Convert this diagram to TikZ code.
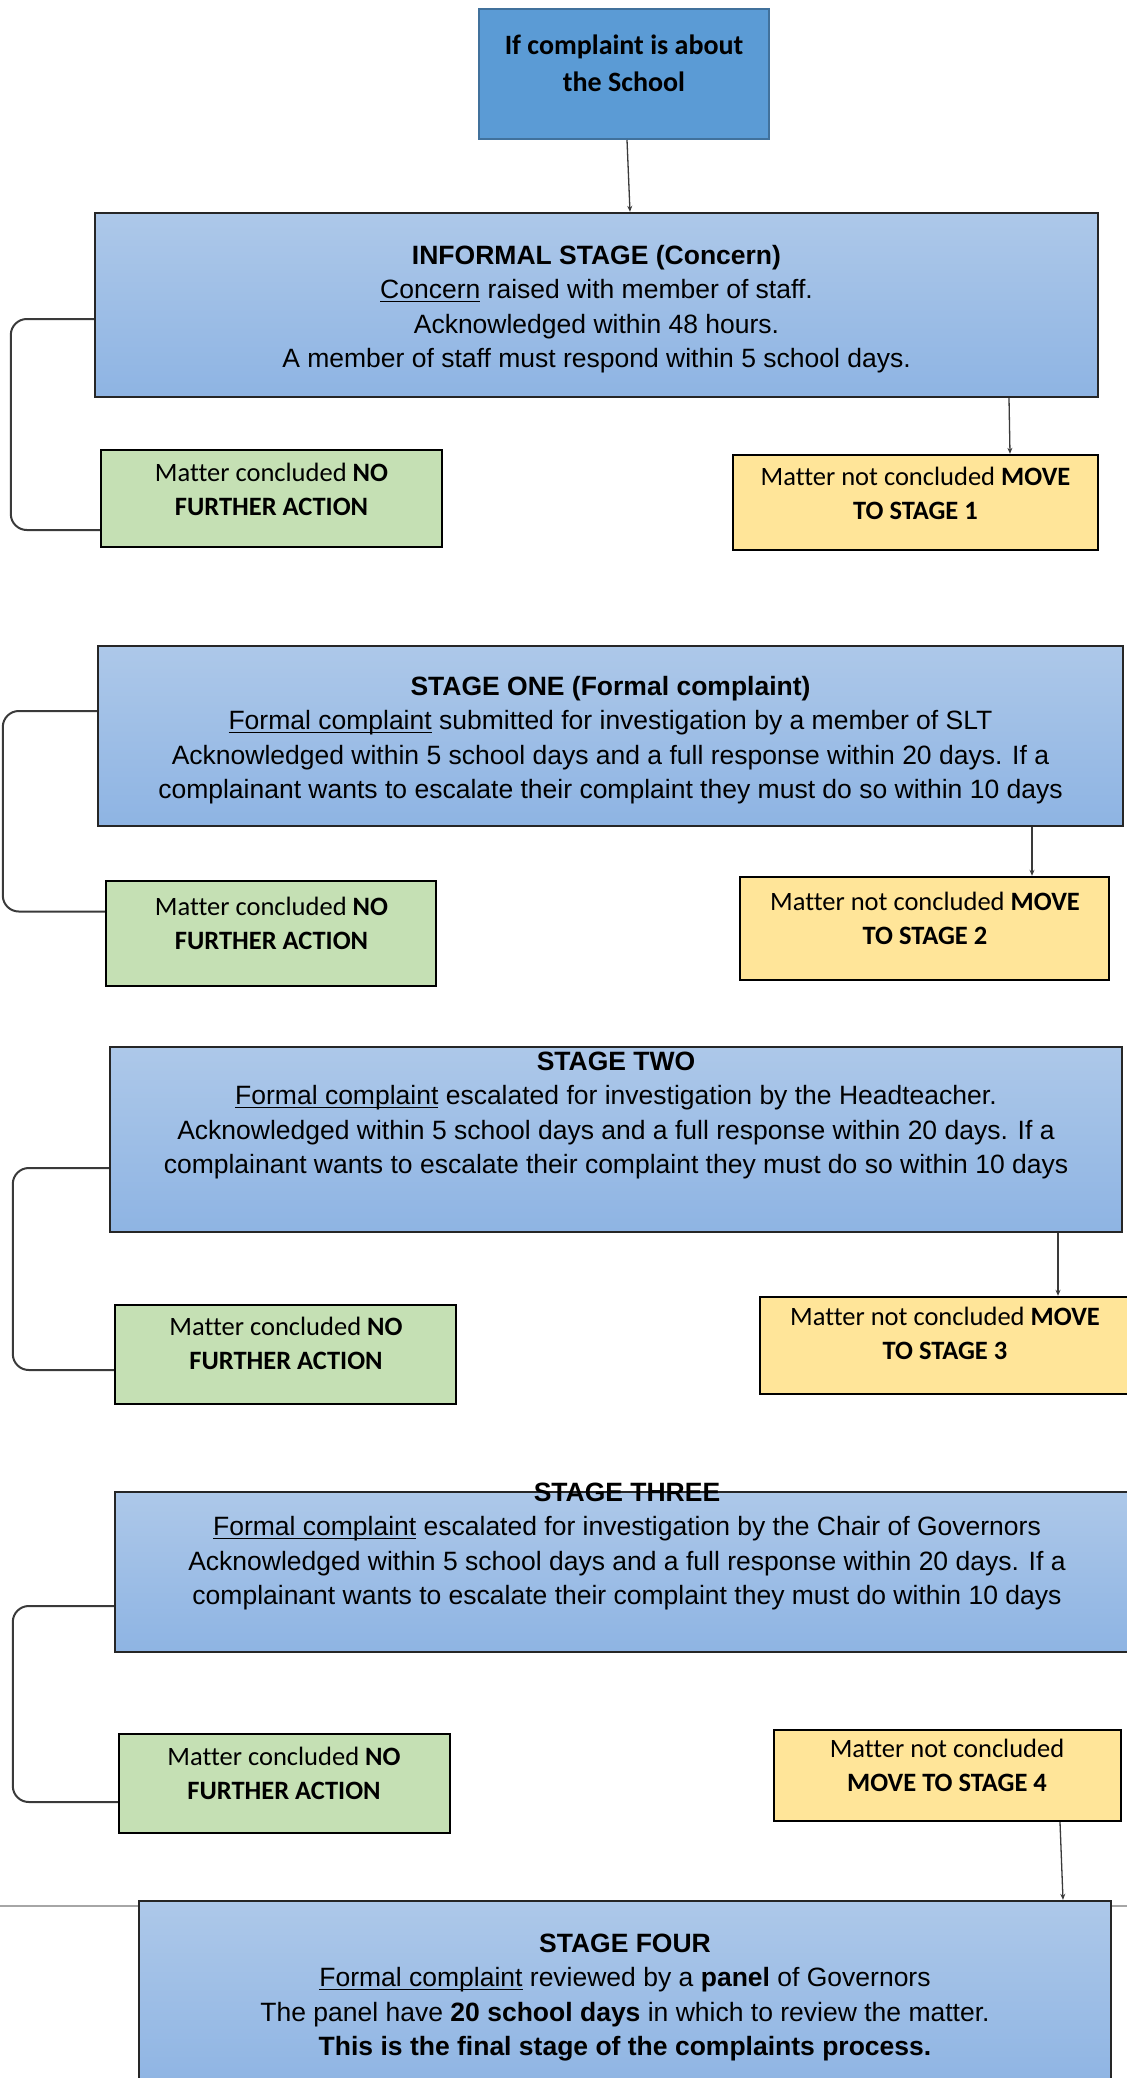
\documentclass[tikz,border=0pt]{standalone}
\usepackage{fontspec}
\setmainfont{Liberation Sans}
\newfontfamily\calfont[Ligatures=NoCommon]{Carlito}
\usetikzlibrary{arrows.meta,calc}
\definecolor{topfill}{HTML}{5B9BD5}
\definecolor{topdraw}{HTML}{41719C}
\definecolor{gradtop}{HTML}{ADC8E9}
\definecolor{gradbot}{HTML}{8EB4E3}
\definecolor{gfill}{HTML}{C5E0B4}
\definecolor{yfill}{HTML}{FFE599}
\definecolor{linec}{HTML}{3A3A3A}
\newcommand{\myul}[1]{\setbox0=\hbox{#1}\rlap{\rule[-3.5pt]{\wd0}{1.3pt}}\box0\relax}
\newcommand{\fl}{\rule{0pt}{22pt}}
\begin{document}
\begin{tikzpicture}[x=1pt,y=-1pt,
  stagebox/.style={rectangle, draw=black!85, line width=2.4pt, top color=gradtop, bottom color=gradbot, inner sep=0},
  topbox/.style={rectangle, draw=topdraw, line width=2pt, fill=topfill, inner sep=0},
  greenbox/.style={rectangle, draw=black, line width=2.4pt, fill=gfill, inner sep=0},
  yellowbox/.style={rectangle, draw=black, line width=2.4pt, fill=yfill, inner sep=0},
  arialtxt/.style={align=center, inner sep=0, anchor=north, font=\fontsize{26.5}{34.5}\selectfont},
  caltxt/.style={align=center, inner sep=0, anchor=north, font=\calfont\fontsize{26.5}{34}\selectfont},
  toptxt/.style={align=center, inner sep=0, anchor=north, font=\calfont\bfseries\fontsize{28}{37}\selectfont},
  arr/.style={draw=linec, line width=1.3pt, -{Stealth[length=6pt,width=5pt]}},
  bracketline/.style={draw=linec, line width=2pt, rounded corners=16pt}
]
\useasboundingbox (0,0) rectangle (1127,2078);

% top box
\node[topbox, minimum width=290pt, minimum height=130pt] (top) at (624,74) {};
\node[toptxt] (topT) at (624,32) {\fl If complaint is about\\the School};

% informal stage
\node[stagebox, minimum width=1003pt, minimum height=184pt] (informal) at (596.5,305) {};
\node[arialtxt] (informalT) at (596.5,242) {\fl\textbf{INFORMAL STAGE (Concern)}\\
  \myul{Concern} raised with member of staff.\\
  Acknowledged within 48 hours.\\
  A member of staff must respond within 5 school days.};
\node[greenbox, minimum width=341pt, minimum height=97pt] (green1) at (271.5,498.5) {};
\node[caltxt] (green1T) at (271.5,459) {\fl Matter concluded \textbf{NO}\\\textbf{FURTHER ACTION}};
\node[yellowbox, minimum width=365pt, minimum height=95pt] (yellow1) at (915.5,502.5) {};
\node[caltxt] (yellow1T) at (915.5,463) {\fl Matter not concluded \textbf{MOVE}\\\textbf{TO STAGE 1}};

% stage one
\node[stagebox, minimum width=1025pt, minimum height=180pt] (stage1) at (610.5,736) {};
\node[arialtxt] (stage1T) at (610.5,673) {\fl\textbf{STAGE ONE (Formal complaint)}\\
  \myul{Formal complaint} submitted for investigation by a member of SLT\\
  Acknowledged within 5 school days and a full response within 20 days. If a\\
  complainant wants to escalate their complaint they must do so within 10 days};
\node[greenbox, minimum width=330pt, minimum height=105pt] (green2) at (271,933.5) {};
\node[caltxt] (green2T) at (271.5,893) {\fl Matter concluded \textbf{NO}\\\textbf{FURTHER ACTION}};
\node[yellowbox, minimum width=369pt, minimum height=103pt] (yellow2) at (924.5,928.5) {};
\node[caltxt] (yellow2T) at (925,888) {\fl Matter not concluded \textbf{MOVE}\\\textbf{TO STAGE 2}};

% stage two
\node[stagebox, minimum width=1012pt, minimum height=185pt] (stage2) at (616,1139.5) {};
\node[arialtxt] (stage2T) at (616,1048) {\fl\textbf{STAGE TWO}\\
  \myul{Formal complaint} escalated for investigation by the Headteacher.\\
  Acknowledged within 5 school days and a full response within 20 days. If a\\
  complainant wants to escalate their complaint they must do so within 10 days};
\node[greenbox, minimum width=341pt, minimum height=99pt] (green3) at (285.5,1354.5) {};
\node[caltxt] (green3T) at (286,1313) {\fl Matter concluded \textbf{NO}\\\textbf{FURTHER ACTION}};
\node[yellowbox, minimum width=370pt, minimum height=97pt] (yellow3) at (945,1345.5) {};
\node[caltxt] (yellow3T) at (945,1303) {\fl Matter not concluded \textbf{MOVE}\\\textbf{TO STAGE 3}};

% stage three
\node[stagebox, minimum width=1015pt, minimum height=160pt] (stage3) at (622.5,1572) {};
\node[arialtxt] (stage3T) at (627,1479) {\fl\textbf{STAGE THREE}\\
  \myul{Formal complaint} escalated for investigation by the Chair of Governors\\
  Acknowledged within 5 school days and a full response within 20 days. If a\\
  complainant wants to escalate their complaint they must do within 10 days};
\node[greenbox, minimum width=331pt, minimum height=99pt] (green4) at (284.5,1783.5) {};
\node[caltxt] (green4T) at (284,1743) {\fl Matter concluded \textbf{NO}\\\textbf{FURTHER ACTION}};
\node[yellowbox, minimum width=347pt, minimum height=91pt] (yellow4) at (947.5,1775.5) {};
\node[caltxt] (yellow4T) at (947,1735) {\fl Matter not concluded\\\textbf{MOVE TO STAGE 4}};

% stage four
\draw[gray!70, line width=1.5pt] (0,1906) -- (1127,1906);
\node[stagebox, minimum width=972pt, minimum height=189pt] (stage4) at (625,1995.5) {};
\node[arialtxt] (stage4T) at (625,1930) {\fl\textbf{STAGE FOUR}\\
  \myul{Formal complaint} reviewed by a \textbf{panel} of Governors\\
  The panel have \textbf{20 school days} in which to review the matter.\\
  \textbf{This is the final stage of the complaints process.}};

% arrows
\draw[arr] ([xshift=3pt]top.south) -- ([xshift=33.5pt]informal.north);
\draw[arr] ([xshift=412.5pt]informal.south) -- ([xshift=94.5pt]yellow1.north);
\draw[arr] ([xshift=421.5pt]stage1.south) -- ([xshift=107.5pt]yellow2.north);
\draw[arr] ([xshift=442pt]stage2.south) -- ([xshift=113pt]yellow3.north);
\draw[arr] ([xshift=112.5pt]yellow4.south) -- ([xshift=438pt]stage4.north);

% brackets
\draw[bracketline] ([yshift=-14pt]informal.west) -- ++(-83,0) |- ([yshift=-31.5pt]green1.west);
\draw[bracketline] ([yshift=25pt]stage1.west) -- ++(-94,0) |- ([yshift=22pt]green2.west);
\draw[bracketline] ([yshift=-28.5pt]stage2.west) -- ++(-96,0) |- ([yshift=-15.5pt]green3.west);
\draw[bracketline] ([yshift=-34pt]stage3.west) -- ++(-101,0) |- ([yshift=-18.5pt]green4.west);
\end{tikzpicture}
\end{document}
